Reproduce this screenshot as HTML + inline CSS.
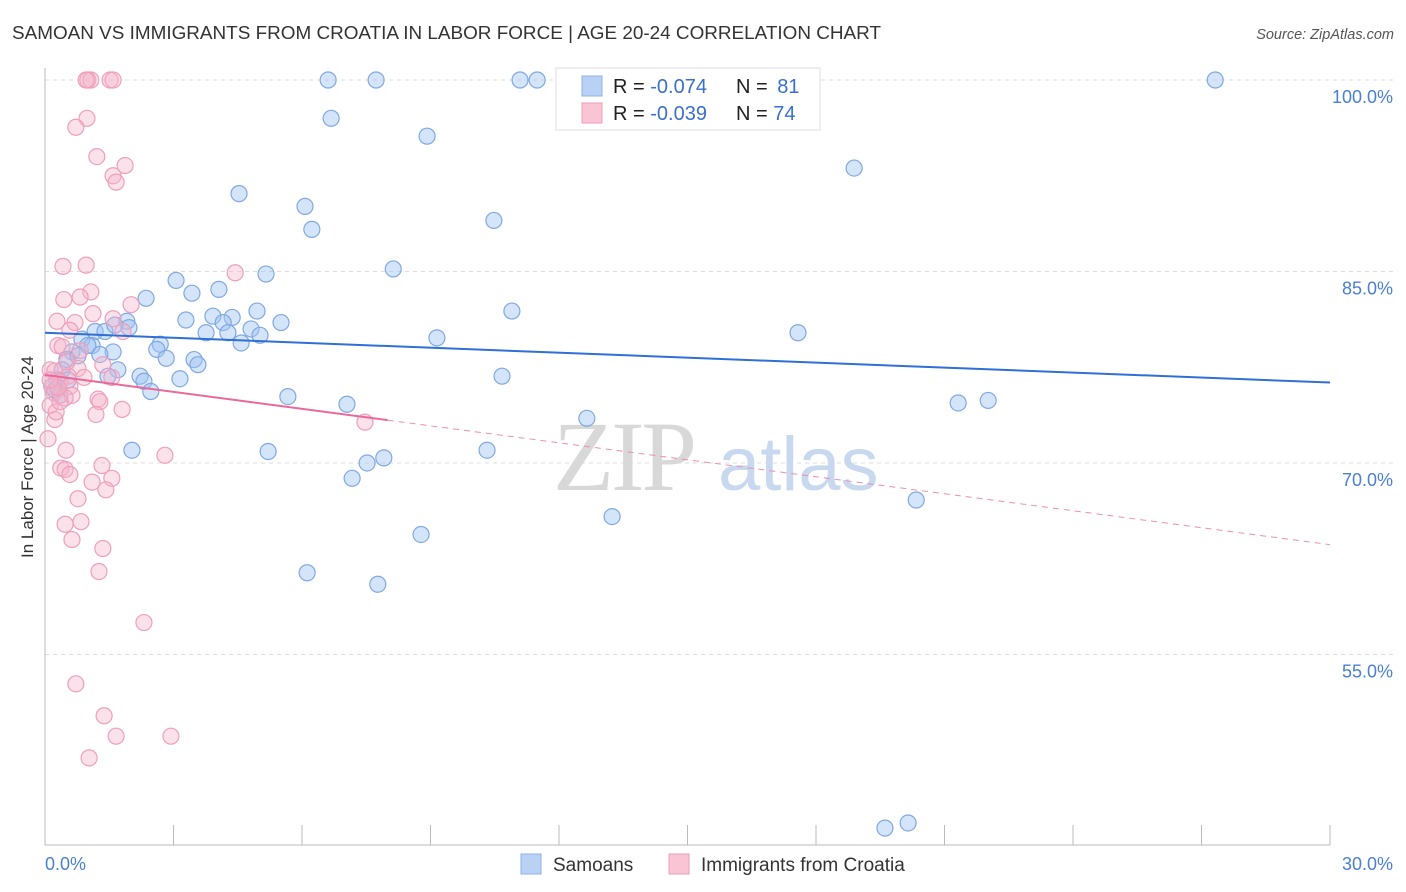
<!DOCTYPE html>
<html><head><meta charset="utf-8">
<style>
body{margin:0;background:#fff;font-family:"Liberation Sans",sans-serif;}
svg{display:block}
</style></head><body>
<svg id="chart" width="1406" height="892" xmlns="http://www.w3.org/2000/svg" font-family="Liberation Sans, sans-serif">
<text x="12" y="39" font-size="18" fill="#333" textLength="869" lengthAdjust="spacingAndGlyphs">SAMOAN VS IMMIGRANTS FROM CROATIA IN LABOR FORCE | AGE 20-24 CORRELATION CHART</text>
<text x="1394" y="39" font-size="14.5" fill="#555" font-style="italic" text-anchor="end">Source: ZipAtlas.com</text>
<g id="grid"></g>
<g>
<text x="553" y="490" font-size="100" font-family="Liberation Serif, serif" fill="#d8d8d8" letter-spacing="-3">ZIP</text>
<text x="718" y="490" font-size="76" fill="#c7d8ef">atlas</text>
</g>
<g id="axes"></g>
<g id="pts"></g>
<g id="trends"></g>
<text transform="translate(33,457) rotate(-90)" font-size="17" fill="#333" text-anchor="middle">In Labor Force | Age 20-24</text>
<g>
<rect x="556" y="68" width="264" height="62" fill="#fff" stroke="#ddd"/>
<rect x="582" y="76" width="20" height="20" fill="#b9d1f5" stroke="#8db2e8"/>
<rect x="582" y="103" width="20" height="20" fill="#f9c4d4" stroke="#ef9fba"/>
<text x="613" y="93" font-size="20" fill="#222">R = <tspan fill="#3a6fd0">-0.074</tspan></text>
<text x="736" y="93" font-size="20" fill="#222">N = <tspan fill="#3a6fd0" dx="4">81</tspan></text>
<text x="613" y="120" font-size="20" fill="#222">R = <tspan fill="#3a6fd0">-0.039</tspan></text>
<text x="736" y="120" font-size="20" fill="#222">N = <tspan fill="#3a6fd0">74</tspan></text>
</g>
<g>
<rect x="521" y="854" width="20" height="20" fill="#b9d1f5" stroke="#8db2e8"/>
<text x="553" y="871" font-size="19" fill="#333">Samoans</text>
<rect x="669" y="854" width="20" height="20" fill="#f9c4d4" stroke="#ef9fba"/>
<text x="701" y="871" font-size="19" fill="#333">Immigrants from Croatia</text>
</g>
</svg>
<script>
const yTicks=[100,85,70,55];
const yTickLabels=["100.0%","85.0%","70.0%","55.0%"];
const xEndLabels=["0.0%","30.0%"];
const blueX=[6.61,7.73,11.09,11.49,27.32,6.68,8.92,18.89,4.53,6.07,6.23,10.48,8.13,5.16,3.06,3.43,4.06,2.36,10.90,4.95,5.51,3.29,3.92,4.37,4.16,3.76,4.27,4.81,5.02,4.58,17.58,9.15,1.91,1.96,1.17,1.40,1.63,0.86,1.10,2.69,2.61,2.83,1.59,1.28,0.63,0.51,3.48,3.57,1.70,1.47,2.22,2.31,3.15,2.47,10.67,0.40,0.28,0.23,5.67,7.05,21.32,22.02,12.65,2.03,5.21,10.32,7.91,7.52,7.17,20.34,13.24,8.78,6.12,7.77,19.61,20.15,0.16,0.35,1.00,0.77,0.54];
const blueY=[100,100,100,100,100,97.0,95.6,93.1,91.1,90.1,88.3,89.0,85.2,84.8,84.3,83.3,83.6,82.9,81.9,81.9,81.0,81.2,81.5,81.4,81.0,80.2,80.2,80.5,80.0,79.4,80.2,79.8,81.1,80.6,80.3,80.3,80.8,79.7,79.2,79.3,78.9,78.2,78.7,78.5,78.7,78.1,78.1,77.7,77.3,76.8,76.8,76.4,76.6,75.6,76.8,77.3,76.5,75.7,75.2,74.6,74.7,74.9,73.5,71.0,70.9,71.0,70.4,70.0,68.8,67.1,65.8,64.4,61.4,60.5,41.4,41.8,76.0,75.3,79.2,78.4,76.5];
const pinkX=[1.00,1.07,1.52,1.59,0.96,0.98,0.72,1.21,1.87,1.59,1.66,4.44,0.42,0.96,1.07,0.44,0.82,2.01,1.12,1.59,0.28,0.70,0.58,1.82,0.30,0.40,0.82,1.35,0.77,0.12,0.23,0.54,0.91,1.56,0.35,0.16,0.58,0.63,1.24,1.28,0.21,0.47,1.80,1.19,0.12,0.23,0.26,7.47,0.07,0.49,2.80,1.33,0.37,0.47,0.58,1.56,1.10,1.42,0.77,0.84,0.47,0.63,1.35,1.26,2.31,0.72,1.38,1.66,2.94,1.03,0.35,0.30,0.51,0.12];
const pinkY=[100,100,100,100,100,97.0,96.3,94.0,93.3,92.5,92.0,84.9,85.4,85.5,83.4,82.8,83.0,82.4,81.7,81.3,81.1,81.0,80.4,80.3,79.2,79.1,78.8,77.7,77.4,77.3,77.2,76.8,76.7,76.7,76.4,76.0,76.0,75.3,75.0,74.8,75.5,75.1,74.2,73.8,74.5,73.4,74.0,73.2,71.9,71.0,70.6,69.8,69.6,69.5,69.1,68.8,68.5,67.9,67.2,65.4,65.2,64.0,63.3,61.5,57.5,52.7,50.2,48.6,48.6,46.9,74.8,75.9,77.9,76.5];
const blueTrend=[80.2,76.3];
const pinkTrend=[76.9,63.6];
const pinkSolidEnd=8.0;
const NS="http://www.w3.org/2000/svg";
const X0=45,X1=1330,XMAX=30;
const sx=v=>X0+(X1-X0)*v/XMAX;
const sy=v=>80+(100-v)*12.766;
function mk(tag,attrs,parent){const e=document.createElementNS(NS,tag);for(const k in attrs)e.setAttribute(k,attrs[k]);parent.appendChild(e);return e;}
const grid=document.getElementById('grid'),axes=document.getElementById('axes');
yTicks.forEach((t,i)=>{
 const l=mk('line',{x1:X0,x2:1395,y1:sy(t),y2:sy(t),stroke:'#ddd','stroke-dasharray':'4,4'},grid);
 
 
 const tx=mk('text',{x:1393,y:sy(t)+23,'font-size':18,fill:'#4a7fd4','text-anchor':'end'},axes);
 tx.textContent=yTickLabels[i];
 
 
});
mk('line',{x1:X0,x2:X0,y1:68,y2:845,stroke:'#bbb'},axes);
mk('line',{x1:X0,x2:X1,y1:845,y2:845,stroke:'#bbb'},axes);
for(let v=0;v<=30;v+=3){
 const t=mk('line',{x1:sx(v),x2:sx(v),y1:825,y2:845,stroke:'#bbb'},axes);
 
 
}
const xl0=mk('text',{x:45,y:870,'font-size':18,fill:'#4a7fd4'},axes);xl0.textContent=xEndLabels[0];


const xl1=mk('text',{x:1393,y:870,'font-size':18,fill:'#4a7fd4','text-anchor':'end'},axes);xl1.textContent=xEndLabels[1];


const pts=document.getElementById('pts');
blueX.forEach((x,i)=>{
 const c=mk('circle',{cx:sx(x),cy:sy(blueY[i]),r:8,fill:'rgba(160,195,242,0.45)',stroke:'#80a9e2','stroke-width':1.2},pts);
 
 
});
pinkX.forEach((x,i)=>{
 const c=mk('circle',{cx:sx(x),cy:sy(pinkY[i]),r:8,fill:'rgba(246,180,202,0.4)',stroke:'#ee9fbb','stroke-width':1.2},pts);
 
 
});
const tr=document.getElementById('trends');
const bl=mk('line',{x1:sx(0),y1:sy(blueTrend[0]),x2:sx(30),y2:sy(blueTrend[1]),stroke:'#2f6fd6','stroke-width':2},tr);


const pe=pinkTrend[0]+(pinkTrend[1]-pinkTrend[0])*pinkSolidEnd/30;
const pl=mk('line',{x1:sx(0),y1:sy(pinkTrend[0]),x2:sx(pinkSolidEnd),y2:sy(pe),stroke:'#e8699a','stroke-width':2},tr);


const pd=mk('line',{x1:sx(pinkSolidEnd),y1:sy(pe),x2:sx(30),y2:sy(pinkTrend[1]),stroke:'#eb8fb0','stroke-width':1,'stroke-dasharray':'6,5'},tr);


</script>
</body></html>
